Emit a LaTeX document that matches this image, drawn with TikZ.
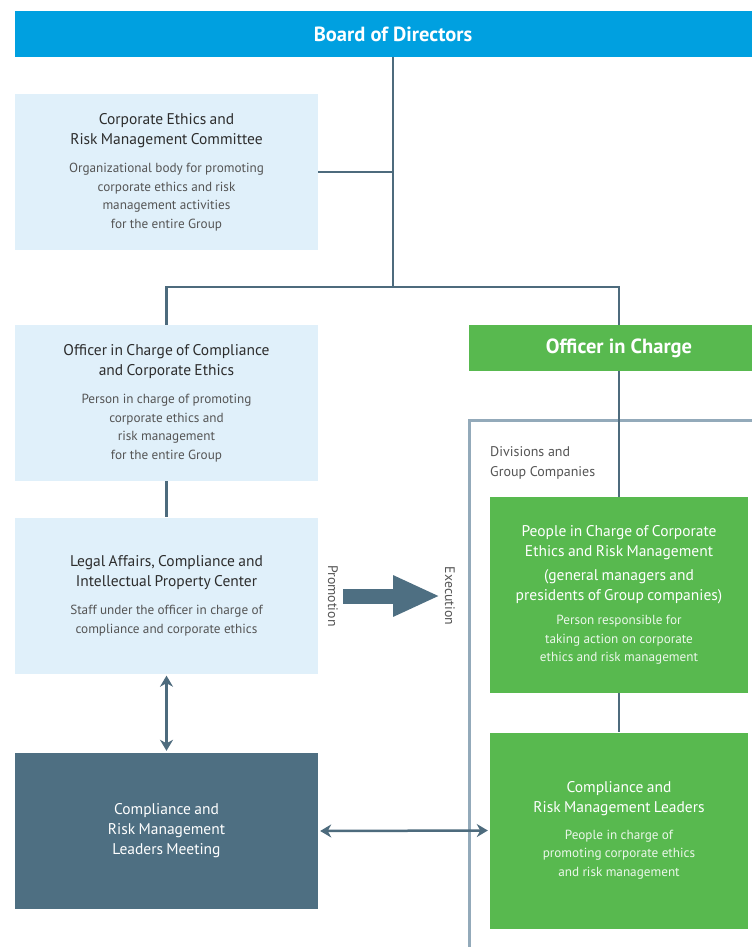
\documentclass[tikz,border=0pt]{standalone}
\usepackage{fontspec}
\setmainfont{PT Sans}
\usepackage{tikz}
\usetikzlibrary{positioning,arrows.meta,backgrounds,calc}
\definecolor{boardblue}{RGB}{0,160,224}
\definecolor{paleblue}{RGB}{224,240,250}
\definecolor{leafgreen}{RGB}{88,185,79}
\definecolor{slate}{RGB}{78,111,130}
\definecolor{linkgrey}{RGB}{77,107,125}
\definecolor{framegrey}{RGB}{147,170,186}
\definecolor{titletxt}{RGB}{45,45,45}
\definecolor{desctxt}{RGB}{85,85,85}
\newcommand{\boxhead}[1]{{\fontsize{15.5}{20}\selectfont #1\par}}
\newcommand{\boxnote}[1]{{\fontsize{13.2}{18.5}\selectfont #1\par}}

\begin{document}
\begin{tikzpicture}[x=1pt, y=-1pt,
    banner/.style={inner sep=0pt, minimum height=46pt},
    bannertxt/.style={inner sep=0pt, text=white, font=\fontsize{20.5}{24}\selectfont\bfseries},
    palebox/.style={fill=paleblue, minimum width=303pt, minimum height=156pt, inner sep=0pt,
                    text width=290pt, align=center, text=titletxt},
    greenbox/.style={fill=leafgreen, minimum width=258pt, minimum height=196pt, inner sep=0pt,
                     text width=250pt, align=center, text=white},
    link/.style={draw=linkgrey, line width=2.5pt},
    twoway/.style={{Stealth[length=11pt,width=13pt,inset=3.5pt]}-{Stealth[length=11pt,width=13pt,inset=3.5pt]},
                   draw=linkgrey, line width=2.5pt, shorten <=2pt, shorten >=2pt},
    bigpush/.style={draw=slate, line width=15pt, -{Triangle[length=47pt,width=38pt]}},
    sidelbl/.style={rotate=-90, font=\fontsize{13.8}{16}\selectfont, text=desctxt, inner sep=0pt}
  ]
  \useasboundingbox (0,0) rectangle (752,947);
  \coordinate (trunk) at (393,287);

  % ===== Top: board and committee =====
  \node[banner, fill=boardblue, minimum width=737pt] (board) at (383.5,34) {};
  \node[bannertxt] (boardtxt) at (board.center -| trunk) {Board of Directors};
  \node[palebox] (committee) at (166.5,172) {%
    \boxhead{Corporate Ethics and\\Risk Management Committee}\vspace{10pt}
    {\color{desctxt}\boxnote{Organizational body for promoting\\corporate ethics and risk\\management activities\\for the entire Group}}};

  % ===== Left column =====
  \node[palebox] (officer) at (166.5,403) {%
    \boxhead{Officer in Charge of Compliance\\and Corporate Ethics}\vspace{10pt}
    {\color{desctxt}\boxnote{Person in charge of promoting\\corporate ethics and\\risk management\\for the entire Group}}};
  \node[palebox] (legal) at (166.5,595.5) {%
    \boxhead{Legal Affairs, Compliance and\\Intellectual Property Center}\vspace{10pt}
    {\color{desctxt}\boxnote{Staff under the officer in charge of\\compliance and corporate ethics}}};
  \node[palebox, fill=slate, text=white] (meeting) at (166.5,831) {%
    \boxhead{Compliance and\\Risk Management\\Leaders Meeting}};

  % ===== Right column =====
  \node[greenbox] (people) at (619,595) {%
    \boxhead{People in Charge of Corporate\\Ethics and Risk Management}\vspace{4pt}
    \boxhead{(general managers and\\presidents of Group companies)}\vspace{6pt}
    {\color{white!88!leafgreen}\boxnote{Person responsible for\\taking action on corporate\\ethics and risk management}}};
  \node[greenbox] (leaders) at (619,830.5) {%
    \boxhead{Compliance and\\Risk Management Leaders}\vspace{8pt}
    {\color{white!88!leafgreen}\boxnote{People in charge of\\promoting corporate ethics\\and risk management}}};
  \node[banner, fill=leafgreen, minimum width=283pt] (oic) at (610.5,348) {};
  \node[bannertxt] (oictxt) at (oic.center -| people.north) {Officer in Charge};
  \node[anchor=north west, align=left, inner sep=0pt, text=desctxt,
        font=\fontsize{14}{20}\selectfont] (divlbl) at (490,446) {Divisions and\\Group Companies};

  % ===== Promotion -> Execution =====
  \node[sidelbl] (promo) at (333,596) {Promotion};
  \node[sidelbl] (exec) at (450,596) {Execution};
  \coordinate (pushfrom) at (343,596);
  \coordinate (pushto) at (440,596);
  \draw[bigpush] (pushfrom) -- (pushto);

  % ===== Connectors =====
  \begin{scope}[on background layer]
    \fill[white] (0,0) rectangle (752,947);
    \draw[draw=framegrey, line width=3pt] (469,947) |- (752,420);
    \draw[link] (board.south -| trunk) -- (trunk);
    \draw[link] (committee.east) -- (committee.east -| trunk);
    \draw[link] (officer.north) |- (trunk) -| (people.north);
    \draw[link] (officer.south) -- (legal.north);
    \draw[link] (people.south) -- (leaders.north);
  \end{scope}
  \draw[twoway] (legal.south) -- (meeting.north);
  \draw[twoway] (meeting.east) -- (leaders.west);
\end{tikzpicture}
\end{document}
